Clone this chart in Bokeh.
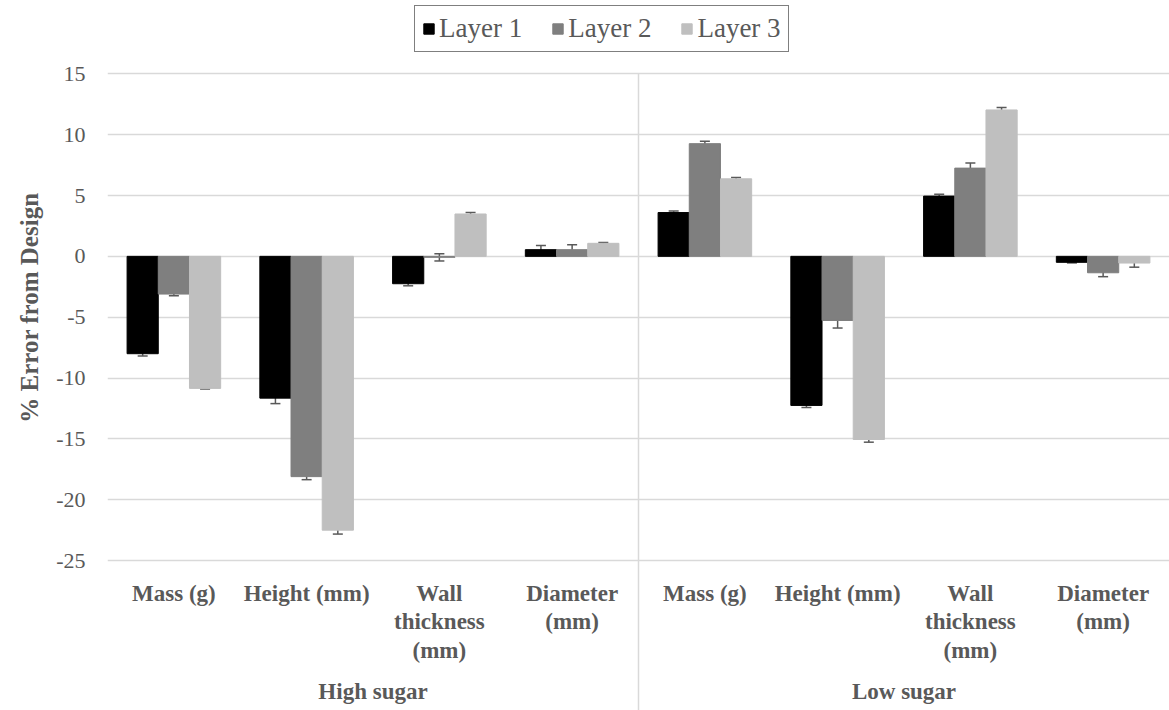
from bokeh.core.properties import value
from bokeh.embed import file_html
from bokeh.models import (ColumnDataSource, FixedTicker, Legend, LegendItem,
                          Range1d, TeeHead, Title, Whisker)
from bokeh.plotting import figure
from bokeh.resources import INLINE

# ---- data -----------------------------------------------------------------
groups = ["High sugar", "Low sugar"]
measures = ["Mass (g)", "Height (mm)", "Wall\nthickness\n(mm)", "Diameter\n(mm)"]
layers = ["Layer 1", "Layer 2", "Layer 3"]

# % error from design, order: High sugar (4 measures) then Low sugar (4 measures)
layer1 = [-8.0, -11.65, -2.25, 0.55, 3.6, -12.25, 4.95, -0.49]
layer2 = [-3.1, -18.1, -0.08, 0.55, 9.26, -5.27, 7.25, -1.35]
layer3 = [-10.85, -22.5, 3.48, 1.07, 6.37, -15.05, 12.03, -0.55]

layer1_err = [0.18, 0.45, 0.17, 0.35, 0.12, 0.17, 0.15, 0.05]
layer2_err = [0.14, 0.25, 0.3, 0.4, 0.19, 0.62, 0.43, 0.32]
layer3_err = [0.05, 0.32, 0.12, 0.07, 0.11, 0.22, 0.2, 0.34]

y_ticks = [-25, -20, -15, -10, -5, 0, 5, 10, 15]

# ---- styling ----------------------------------------------------------------
SERIF = "Liberation Serif"
TEXT_GREY = "#595959"
GRID_GREY = "#d9d9d9"
layer_colors = ["#000000", "#7f7f7f", "#bfbfbf"]

W, H = 1169, 710
LEFT = 107
PX_PER_UNIT = 12.17
TOP_TICK_PX = 73.3           # screen row of the highest tick
y_end = y_ticks[-1] + TOP_TICK_PX / PX_PER_UNIT
y_start = y_end - H / PX_PER_UNIT


def y_at(px):
    """Data value at a given screen row."""
    return y_end - px / PX_PER_UNIT


n_cat = len(groups) * len(measures)
centers = [i + 0.5 for i in range(n_cat)]
bar_w = 0.235

p = figure(width=W, height=H, output_backend="svg", toolbar_location=None,
           title=None, x_range=Range1d(0, n_cat), y_range=Range1d(y_start, y_end),
           min_border_left=LEFT, min_border_right=0, min_border_top=0,
           min_border_bottom=0)
p.outline_line_color = None
p.background_fill_color = "white"
p.border_fill_color = "white"

p.xaxis.visible = False
p.xgrid.visible = False
p.ygrid.ticker = FixedTicker(ticks=y_ticks)
p.ygrid.grid_line_color = GRID_GREY
p.ygrid.grid_line_width = 1.5

yax = p.yaxis[0]
yax.ticker = FixedTicker(ticks=y_ticks)
yax.major_label_overrides = {t: str(t) for t in y_ticks}
yax.axis_line_color = None
yax.major_tick_line_color = None
yax.minor_tick_line_color = None
yax.major_tick_out = 0
yax.major_label_standoff = 22
yax.major_label_text_font = SERIF
yax.major_label_text_font_size = "22px"
yax.major_label_text_color = TEXT_GREY

# y axis title, in its own panel left of the tick labels
p.add_layout(Title(text="% Error from Design", align="right", offset=192,
                   text_font=SERIF, text_font_style="bold", text_font_size="25px",
                   text_color=TEXT_GREY, standoff=22), "left")

# group separator
p.segment(x0=[len(measures)], y0=[y_ticks[-1]], x1=[len(measures)], y1=[y_start],
          line_color=GRID_GREY, line_width=1.5)

# bars + error bars
series = [layer1, layer2, layer3]
errors = [layer1_err, layer2_err, layer3_err]
items = []
for k, (vals, errs) in enumerate(zip(series, errors)):
    xs = [c + (k - 1) * bar_w for c in centers]
    src = ColumnDataSource(dict(x=xs, top=vals,
                                upper=[v + e for v, e in zip(vals, errs)],
                                lower=[v - e for v, e in zip(vals, errs)]))
    r = p.vbar(x="x", top="top", bottom=0, width=bar_w, source=src,
               fill_color=layer_colors[k], line_color=layer_colors[k])
    items.append(LegendItem(label=layers[k], renderers=[r]))
    wh = Whisker(base="x", upper="upper", lower="lower", source=src,
                 dimension="height", line_color="#595959", line_width=1.5,
                 upper_head=TeeHead(size=10, line_color="#595959", line_width=1.5),
                 lower_head=TeeHead(size=10, line_color="#595959", line_width=1.5))
    p.add_layout(wh)

# category labels
cat_src = ColumnDataSource(dict(x=centers, y=[y_at(580)] * n_cat,
                                text=measures * len(groups)))
p.text(x="x", y="y", text="text", source=cat_src, text_align="center",
       text_baseline="top", text_font=value(SERIF), text_font_style="bold",
       text_font_size="23px", text_color=TEXT_GREY, text_line_height=1.15)

grp_src = ColumnDataSource(dict(
    x=[len(measures) * (g + 0.5) for g in range(len(groups))],
    y=[y_at(691)] * len(groups), text=groups))
p.text(x="x", y="y", text="text", source=grp_src, text_align="center",
       text_baseline="alphabetic", text_font=value(SERIF), text_font_style="bold",
       text_font_size="23px", text_color=TEXT_GREY)

legend = Legend(items=items, orientation="horizontal", location=(414 - LEFT, H - 52),
                glyph_width=13, glyph_height=13, label_standoff=4, spacing=29,
                padding=7, border_line_color="black", border_line_width=1.5,
                background_fill_color="white", background_fill_alpha=1,
                label_text_font=SERIF, label_text_font_size="27px",
                label_text_color=TEXT_GREY)
p.add_layout(legend)

open("out.html", "w").write(file_html(p, INLINE))
